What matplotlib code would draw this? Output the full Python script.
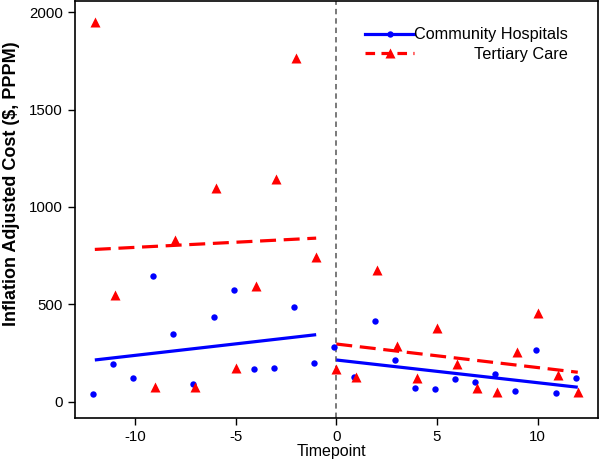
import numpy as np
import matplotlib
matplotlib.use('Agg')
import matplotlib.pyplot as plt
from matplotlib.lines import Line2D

plt.rcParams['font.family'] = ['Liberation Sans', 'DejaVu Sans']
plt.rcParams['axes.unicode_minus'] = False

# observed values per timepoint
timepoints = np.arange(-12, 13)
community = [38, 193, 122, 645, 349, 89, 433, 575, 168, 175, 485, 200,
             279, 125, 414, 212, 69, 64, 116, 103, 142, 57, 265, 43, 122]
# no tertiary point is visible at t=-10
tertiary = [1950, 548, np.nan, 77, 830, 77, 1095, 173, 594, 1142, 1763, 744,
            170, 128, 676, 287, 123, 380, 192, 69, 51, 254, 454, 137, 48]

# fitted segments (pre and post)
pre_t = [-12, -1]
post_t = [0, 12]
community_pre = [214, 344]
community_post = [214, 74]
tertiary_pre = [782, 840]
tertiary_post = [296, 151]

blue = '#0000ff'
red = '#ff0000'

fig = plt.figure(figsize=(6, 4.61), dpi=100)
ax = fig.add_axes([0.1245, 0.0933, 0.872, 0.904])

ax.axvline(0, color='#6e6e6e', lw=1.3, dashes=(3, 2.2), zorder=1)

ax.plot(timepoints - 0.1, community, 'o', color=blue, ms=4.6, mec='none', zorder=3)
ax.plot(timepoints, tertiary, '^', color=red, ms=7, mec='none', zorder=3)

ax.plot(pre_t, community_pre, '-', color=blue, lw=2.3, solid_capstyle='butt', zorder=2)
ax.plot(post_t, community_post, '-', color=blue, lw=2.3, solid_capstyle='butt', zorder=2)
ax.plot(pre_t, tertiary_pre, '-', color=red, lw=2.3, dashes=(5, 2.4), zorder=2)
ax.plot(post_t, tertiary_post, '-', color=red, lw=2.3, dashes=(5, 2.4), zorder=2)

ax.set_xlim(-13, 13)
ax.set_ylim(-84, 2057)
ax.set_xticks([-10, -5, 0, 5, 10])
ax.set_yticks([0, 500, 1000, 1500, 2000])
ax.tick_params(direction='out', length=5, width=1, labelsize=10.8, pad=3.5)
for s in ax.spines.values():
    s.set_linewidth(1.2)

ax.set_xlabel('Timepoint', fontsize=11.5)
ax.xaxis.set_label_coords(0.491, -0.063)
ax.set_ylabel('Inflation Adjusted Cost ($, PPPM)', fontsize=13, fontweight='bold')
ax.yaxis.set_label_coords(-0.105, 0.562)

h1 = Line2D([], [], color=blue, lw=2.3, marker='o', ms=4.6, mec='none')
h2 = Line2D([], [], color=red, lw=2.3, dashes=(3, 2), marker='^', ms=7, mec='none')
leg = ax.legend([h1, h2], ['Community Hospitals', 'Tertiary Care'], loc='upper right',
                frameon=False, fontsize=11.7, handlelength=3.0, handletextpad=0.0,
                labelspacing=0.25, bbox_to_anchor=(0.943, 0.937), borderaxespad=0,
                borderpad=0)

# right-align legend labels
fig.canvas.draw()
r = fig.canvas.get_renderer()
texts = leg.get_texts()
widths = [t.get_window_extent(r).width for t in texts]
wmax = max(widths)
for t, w in zip(texts, widths):
    t.set_x(t.get_position()[0] + (wmax - w))

fig.savefig('out.png', dpi=100)
